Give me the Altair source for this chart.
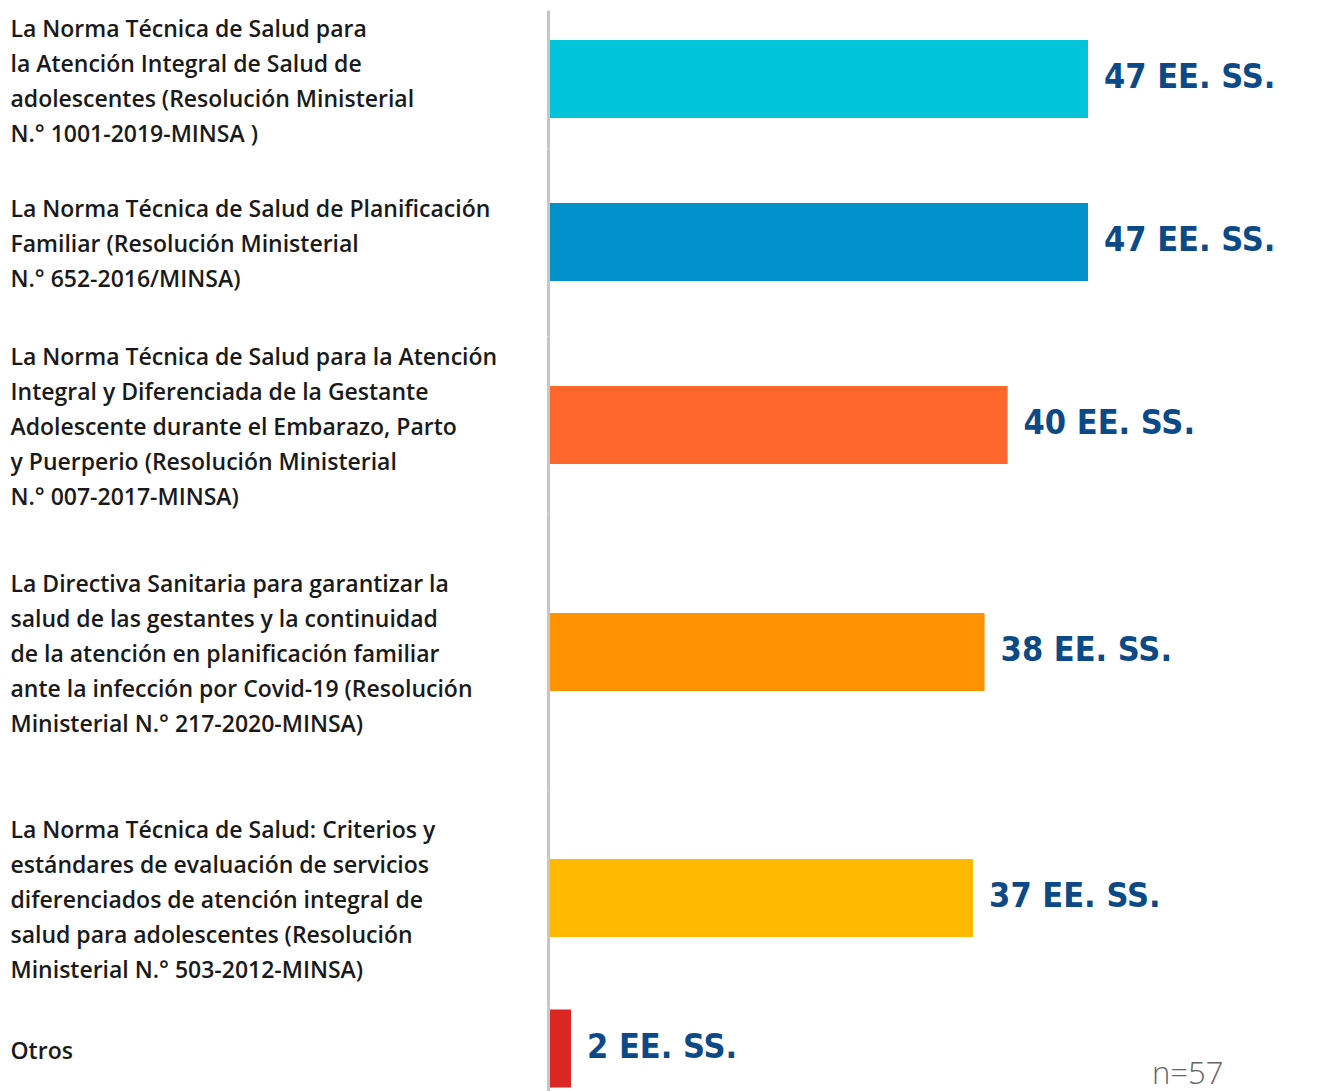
import altair as alt
import pandas as pd

categories = [
    "La Norma Técnica de Salud para|la Atención Integral de Salud de|adolescentes (Resolución Ministerial|N.° 1001-2019-MINSA )",
    "La Norma Técnica de Salud de Planificación|Familiar (Resolución Ministerial|N.° 652-2016/MINSA)",
    "La Norma Técnica de Salud para la Atención|Integral y Diferenciada de la Gestante|Adolescente durante el Embarazo, Parto|y Puerperio (Resolución Ministerial|N.° 007-2017-MINSA)",
    "La Directiva Sanitaria para garantizar la|salud de las gestantes y la continuidad|de la atención en planificación familiar|ante la infección por Covid-19 (Resolución|Ministerial N.° 217-2020-MINSA)",
    "La Norma Técnica de Salud: Criterios y|estándares de evaluación de servicios|diferenciados de atención integral de|salud para adolescentes (Resolución|Ministerial N.° 503-2012-MINSA)",
    "Otros",
]
values = [47, 47, 40, 38, 37, 2]
colors = ["#00c4da", "#0091ca", "#ff662b", "#ff9200", "#ffb900", "#da2721"]
value_suffix = " EE. SS."
n_label = "n=57"

row_heights = [138, 188, 178, 276, 216, 85]
line_height = 35

df = pd.DataFrame({"cat": categories, "value": values, "idx": list(range(len(values)))})

x_scale = alt.Scale(domain=[0, 47])
color_scale = alt.Scale(domain=categories, range=colors)


def y_axis(n_lines):
    return alt.Axis(
        labelExpr="split(datum.label, '|')",
        labelAlign="left",
        labelBaseline="middle",
        labelPadding=538,
        labelOffset=-(n_lines - 1) * line_height / 2 + 3,
        ticks=False,
        tickSize=0,
        labelLimit=600,
        labelFont="Open Sans",
        labelFontWeight=600,
        labelFontSize=23,
        labelLineHeight=line_height,
        labelColor="#1a1a1a",
        domainColor="#c6c6c6",
        domainWidth=3,
        zindex=1,
        title=None,
    )


rows = []
for i, h in enumerate(row_heights):
    n_lines = categories[i].count("|") + 1
    base = alt.Chart(df).transform_filter(alt.datum.idx == i).transform_calculate(
        lbl=alt.expr.toString(alt.datum.value) + value_suffix
    )
    y = alt.Y("cat:N", axis=y_axis(n_lines), title=None)
    bars = base.mark_bar(size=78).encode(
        x=alt.X("value:Q", scale=x_scale, axis=None),
        y=y,
        color=alt.Color("cat:N", scale=color_scale, legend=None),
    )
    txt = base.mark_text(
        align="left",
        baseline="middle",
        dx=16,
        dy=-1,
        font="DejaVu Sans Condensed",
        fontWeight="bold",
        fontSize=34,
        color="#0b4a87",
    ).encode(
        x=alt.X("value:Q", scale=x_scale, axis=None),
        y=y,
        text="lbl:N",
    )
    layers = [bars, txt]
    if i == len(row_heights) - 1:
        note = base.mark_text(
            align="left",
            baseline="alphabetic",
            font="Open Sans",
            fontWeight=300,
            fontSize=31,
            color="#666666",
            text=n_label,
        ).encode(x=alt.value(604), y=alt.value(78))
        layers.append(note)
    rows.append(alt.layer(*layers).properties(width=540, height=h))

chart = alt.vconcat(*rows, spacing=0, bounds="flush").properties(
    padding={"left": 2, "top": 2, "right": 5, "bottom": 0}
).configure_view(stroke=None)

chart.save("out.html", embed_options={"renderer": "svg", "actions": False})
